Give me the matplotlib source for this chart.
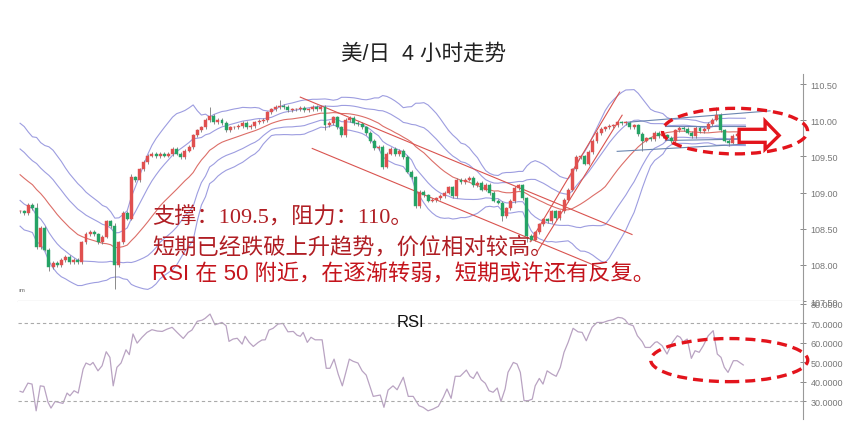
import numpy as np
import pandas as pd
import matplotlib
matplotlib.use('Agg')
from matplotlib import pyplot as plt
from matplotlib.patches import Ellipse, Polygon

plt.rcParams['font.family'] = ['Liberation Sans', 'Noto Sans CJK SC', 'DejaVu Sans']

# closes before the visible window (only used to warm up the bands)
prior_closes = [109.70, 109.75, 109.65, 109.60, 109.62, 109.55, 109.50, 109.45, 109.48, 109.35,
                109.30, 109.20, 109.05, 109.00, 108.85, 108.90, 108.80, 108.75, 108.70]

# 4h closes, USD/JPY
closes = [108.74, 108.72, 108.83, 108.79, 108.25, 108.51, 108.21, 107.97, 108.03, 108.00,
          108.07, 108.11, 108.04, 108.07, 108.04, 108.31, 108.43, 108.46, 108.42, 108.32,
          108.39, 108.60, 108.54, 108.00, 108.31, 108.72, 108.64, 109.21, 109.17, 109.32,
          109.42, 109.51, 109.53, 109.50, 109.54, 109.51, 109.53, 109.60, 109.54, 109.49,
          109.58, 109.63, 109.79, 109.86, 109.90, 110.00, 110.06, 109.97, 110.01, 109.96,
          109.86, 109.90, 109.90, 109.92, 109.96, 109.90, 109.92, 109.97, 109.99, 110.00,
          110.11, 110.15, 110.18, 110.20, 110.18, 110.14, 110.15, 110.15, 110.17, 110.14,
          110.15, 110.18, 110.15, 110.18, 109.93, 109.96, 110.04, 109.90, 109.79, 110.00,
          110.03, 109.96, 109.95, 109.90, 109.82, 109.71, 109.61, 109.63, 109.36, 109.54,
          109.60, 109.53, 109.58, 109.49, 109.29, 109.21, 108.81, 109.01, 108.96, 108.89,
          108.90, 108.92, 108.95, 109.00, 109.07, 108.95, 109.17, 109.15, 109.18, 109.20,
          109.10, 109.13, 109.04, 109.11, 108.99, 108.89, 108.86, 108.67, 108.78, 108.88,
          109.06, 109.10, 108.92, 108.40, 108.35, 108.45, 108.56, 108.63, 108.61, 108.74,
          108.65, 108.74, 108.90, 109.04, 109.32, 109.49, 109.50, 109.40, 109.56, 109.71,
          109.82, 109.88, 109.90, 109.92, 109.93, 109.97, 109.96, 109.96, 109.90, 109.93,
          109.81, 109.72, 109.75, 109.74, 109.82, 109.78, 109.79, 109.76, 109.71, 109.86,
          109.89, 109.88, 109.83, 109.78, 109.89, 109.85, 109.88, 109.95, 110.01, 110.07,
          109.86, 109.72, 109.69, 109.78, 109.81, 109.78, 109.78]
first_open = 108.74

# long shadows (index: (high, low)), others are short
shadows = {4: (108.86, None), 7: (None, 107.92), 23: (108.58, 107.66), 27: (109.25, None),
           46: (110.19, None), 63: (110.28, None), 74: (None, 109.87), 88: (None, 109.32),
           117: (None, 108.60), 123: (None, 108.32), 151: (None, 109.57), 169: (110.19, None),
           172: (None, 109.64)}

# RSI line (candle position, value)
rsi_pos = [0, 0.7, 1.9, 2.9, 3.9, 4.9, 5.8, 6.8, 7.5, 8.5, 9.5, 10.4, 11.4, 12.1, 13.1, 14.1,
           15.3, 16.0, 17.0, 17.7, 18.9, 19.9, 20.9, 21.8, 22.6, 23.5, 24.5, 25.7, 26.5, 27.4,
           28.4, 29.6, 30.8, 32.0, 33.3, 34.5, 35.7, 36.9, 38.1, 39.6, 40.8, 41.7, 43.0, 44.2,
           44.9, 46.1, 47.3, 48.3, 49.0, 50.0, 50.7, 51.7, 52.7, 53.9, 54.6, 55.6, 56.6, 57.8,
           58.7, 59.5, 60.4, 61.4, 62.6, 63.8, 65.0, 66.3, 67.2, 68.0, 68.7, 69.7, 70.6, 71.6,
           73.3, 74.3, 75.2, 76.2, 77.2, 78.2, 79.1, 79.9, 80.8, 82.0, 83.0, 84.0, 85.7, 87.4,
           88.3, 89.3, 90.5, 91.5, 93.0, 94.2, 95.4, 96.8, 97.8, 99.0, 100.2, 101.5, 102.7,
           103.6, 104.6, 105.6, 106.8, 108.3, 109.2, 110.0, 110.9, 111.9, 112.9, 113.8, 114.8,
           115.8, 116.7, 117.7, 118.4, 119.7, 120.6, 121.4, 122.3, 123.3, 124.3, 125.0, 126.0,
           126.9, 127.9, 129.1, 130.1, 131.1, 132.0, 133.0, 134.2, 135.4, 136.4, 137.4, 137.9,
           138.8, 140.0, 141.5, 142.7, 143.9, 145.1, 146.1, 146.8, 147.6, 148.8, 149.8, 151.0,
           151.7, 152.9, 154.1, 154.6, 155.8, 157.0, 158.3, 159.5, 160.2, 160.9, 161.9, 162.9,
           163.8, 164.8, 165.8, 167.0, 168.2, 169.2, 170.1, 170.9, 171.8, 173.1, 174.0, 174.8,
           175.5]
rsi_val = [35, 34.5, 39.2, 38.7, 25, 37.8, 37.5, 29.3, 26.4, 29.8, 29.3, 28.8, 34.1, 32.7, 35.3,
           34.1, 46.4, 49.5, 48.5, 49.8, 45.5, 48.1, 55.3, 52.4, 37.8, 47.3, 49.5, 56.3, 53.8,
           64.4, 59.7, 62.7, 65.2, 66.6, 65.9, 65.7, 66.9, 67.8, 65.2, 62.1, 65.2, 66.4, 70.9,
           71.5, 72.4, 74.6, 69.1, 69.8, 70.3, 68.6, 60.6, 61.8, 62.2, 59.2, 63.2, 60.1, 58,
           60.1, 61.3, 61.4, 66.4, 67.3, 69.5, 69.8, 65.5, 65.7, 63.8, 63.2, 65.2, 60.1, 62.7,
           61.4, 61.4, 46.8, 46.8, 51.5, 43.8, 37.8, 45, 51.5, 50.4, 49.5, 45.5, 43.3, 32.4,
           33.1, 26.8, 35.6, 37.8, 35.8, 42.2, 32.4, 32.4, 27.6, 26.8, 25.0, 25.9, 27.3, 31.9,
           36.2, 31.4, 42.7, 42.7, 45.9, 42.7, 41.6, 45, 40.9, 39.1, 35.3, 34.5, 36.7, 29.8,
           36.2, 44.7, 49.8, 49, 44.7, 30.2, 30.2, 31, 37.8, 41.6, 38.7, 45.5, 43.8, 42.7, 47.3,
           55, 60.1, 67.3, 65.5, 65.2, 60.9, 63.5, 67.8, 70.3, 70.3, 71.2, 71.7, 72.9, 72.6,
           71.7, 69.5, 68.6, 63.5, 60.4, 57.5, 57.5, 60.1, 60.4, 58.4, 54.1, 60.1, 63.5, 62.7,
           60.4, 61.8, 51.9, 55.8, 55, 58.4, 63.5, 66.1, 54.1, 52.4, 47.3, 44.7, 50.7, 50.7,
           49.5, 48.5]

# drawn trend lines ((x0, y0), (x1, y1)) in candle / price units
red_lines = [((70.9, 109.61), (140.8, 107.96)),
             ((68.0, 110.32), (148.5, 108.42)),
             ((123.8, 108.32), (145.5, 110.39)),
             ((125.5, 108.18), (146.1, 110.07))]
blue_lines = [((144.9, 109.57), (176.0, 109.67)),
              ((146.8, 109.97), (182.0, 110.13)),
              ((156.6, 109.92), (176.0, 109.92)),
              ((156.6, 109.72), (176.0, 109.74))]

N = len(closes)
x = np.arange(N)
opens = [first_open] + closes[:-1]

s = pd.Series(prior_closes + closes)
mid = s.rolling(20).mean().values[-N:]
sd = s.rolling(20).std(ddof=0).values[-N:]

fig = plt.figure(figsize=(8.46, 4.31), dpi=100)
ax = fig.add_axes([0.0213, 0.2993, 0.9279, 0.5267])
ax2 = fig.add_axes([0.0213, 0.0255, 0.9279, 0.2738], sharex=ax)

# bands
for k in (-2, -1, 1, 2):
    ax.plot(x, mid + k * sd, color='#9d9de0', lw=0.8, zorder=1)
ax.plot(x, mid, color='#dc6e68', lw=0.8, zorder=1)

# candles
for i in range(N):
    o, c = opens[i], closes[i]
    hi, lo = max(o, c) + 0.025, min(o, c) - 0.025
    if i in shadows:
        if shadows[i][0] is not None:
            hi = shadows[i][0]
        if shadows[i][1] is not None:
            lo = shadows[i][1]
    col = '#e0504f' if c >= o else '#25a365'
    ax.vlines(i, lo, hi, color='#777777', lw=0.6, zorder=2)
    h = max(abs(c - o), 0.01)
    ax.bar(i, h, bottom=min(o, c), width=0.72, color=col, edgecolor=col, lw=0.3, zorder=3)

for (x0, y0), (x1, y1) in red_lines:
    ax.plot([x0, x1], [y0, y1], color='#d9534f', lw=0.8, zorder=2)
for (x0, y0), (x1, y1) in blue_lines:
    ax.plot([x0, x1], [y0, y1], color='#6b86b0', lw=0.8, zorder=2)

# red marks
ax.add_patch(Ellipse((173.5, 109.85), 35.2, 0.63, fill=False, ec='#e3141c', lw=2.4,
                     ls=(0, (3, 1.8)), clip_on=False, zorder=6))
arrow = [(174.5, 109.875), (180.8, 109.875), (180.8, 109.99), (184.2, 109.79),
         (180.8, 109.60), (180.8, 109.695), (174.5, 109.695)]
ax.add_patch(Polygon(arrow, closed=True, fc='white', ec='#e3141c', lw=2.4, zorder=7,
                     clip_on=False))

ax.set_xlim(-0.5, 190.0)
ax.set_ylim(107.5, 110.64)
ax.set_yticks([107.5, 108.0, 108.5, 109.0, 109.5, 110.0, 110.5])
ax.set_yticklabels(['107.50', '108.00', '108.50', '109.00', '109.50', '110.00', '110.50'])
ax.yaxis.tick_right()
ax.tick_params(axis='y', labelsize=6.5, colors='#777777', direction='inout', length=4, width=0.6)
ax.tick_params(axis='x', bottom=False, labelbottom=False)
for side in ('left', 'top'):
    ax.spines[side].set_visible(False)
ax.spines['right'].set_color('#999999')
ax.spines['bottom'].set_color('#888888')

# RSI
ax2.plot(rsi_pos, rsi_val, color='#b9a3c2', lw=0.9)
for lvl in (70, 30):
    ax2.axhline(lvl, color='#aaaaaa', lw=0.8, ls=(0, (3, 2.5)))
ax2.add_patch(Ellipse((172.1, 51.0), 38.1, 22.1, fill=False, ec='#e3141c', lw=2.4,
                      ls=(0, (3, 1.8)), clip_on=False, zorder=6))
ax2.set_ylim(20.8, 81.3)
ax2.set_yticks([30, 40, 50, 60, 70, 80])
ax2.set_yticklabels(['%.4f' % v for v in [30, 40, 50, 60, 70, 80]])
ax2.yaxis.tick_right()
ax2.tick_params(axis='y', labelsize=6.5, colors='#777777', direction='inout', length=4, width=0.6)
ax2.tick_params(axis='x', bottom=False, labelbottom=False)
for side in ('left', 'top', 'bottom'):
    ax2.spines[side].set_visible(False)
ax2.spines['right'].set_color('#999999')

fig.text(0.5, 0.874, '美/日  4 小时走势', ha='center', va='center', fontsize=15.5, color='#222222')
fig.text(0.485, 0.251, 'RSI', ha='center', va='center', fontsize=12, color='#111111')
fig.text(0.022, 0.327, 'ım', fontsize=4.5, color='#666666', va='center')

txt_font = ['Liberation Serif', 'Noto Sans CJK SC', 'DejaVu Sans']
fig.text(0.1797, 0.494, '支撑：109.5，阻力：110。', fontsize=16, color='#b01e24',
         va='center', family=txt_font)
fig.text(0.1797, 0.4246, '短期已经跌破上升趋势，价位相对较高。', fontsize=16, color='#b01e24',
         va='center', family=txt_font)
fig.text(0.1797, 0.362, 'RSI 在 50 附近，在逐渐转弱，短期或许还有反复。', fontsize=16,
         color='#c4141c', va='center')

fig.savefig('out.png', dpi=100)
